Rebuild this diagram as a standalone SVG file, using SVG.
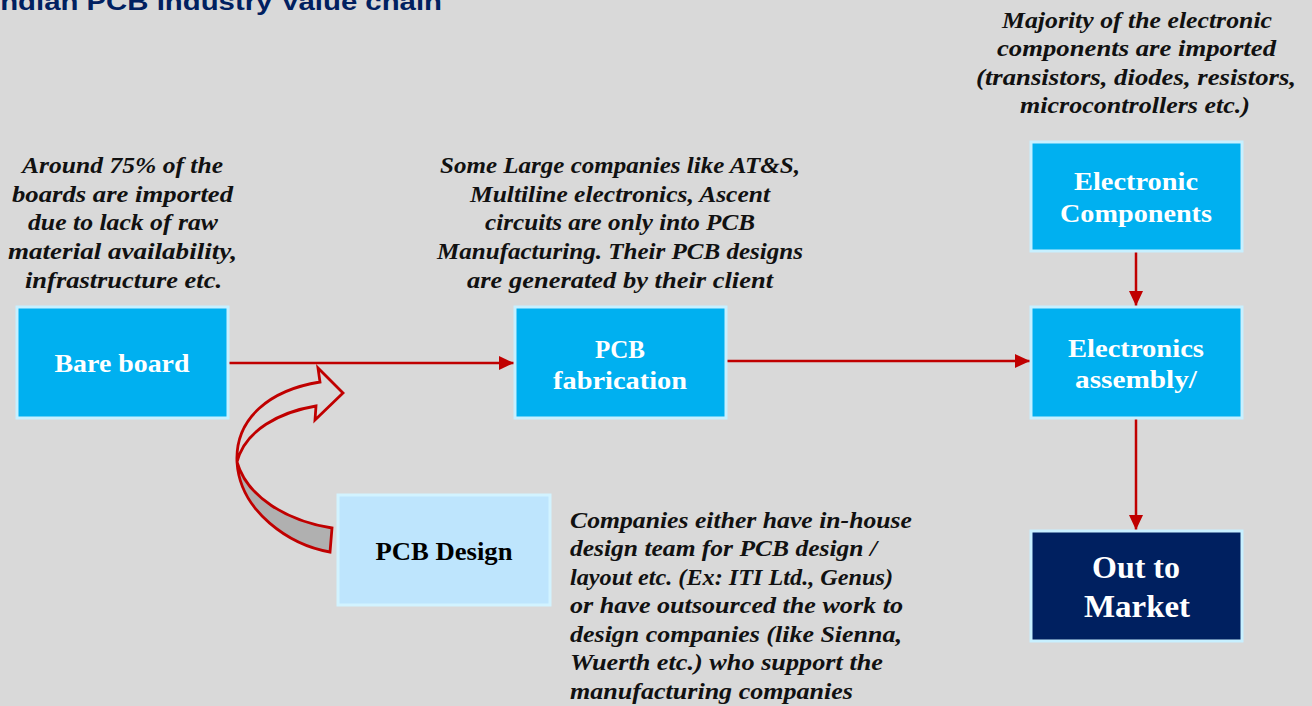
<svg xmlns="http://www.w3.org/2000/svg" width="1312" height="706" viewBox="0 0 1312 706">
<style>
.box{fill:#00b0f0;stroke:#c8f0ff;stroke-width:3}
.design{fill:#bee5fd;stroke:#d2f3ff;stroke-width:3}
.market{fill:#002060;stroke:#c8f0ff;stroke-width:3}
.bt{font-family:"Liberation Serif",serif;font-weight:bold;font-size:25px;fill:#fff;text-anchor:middle}
.note{font-family:"Liberation Serif",serif;font-weight:bold;font-style:italic;font-size:23px;fill:#111}
.c{text-anchor:middle}
.conn{stroke:#c00000;stroke-width:2.5;fill:none}
</style>
<defs>
<marker id="ah" markerUnits="userSpaceOnUse" markerWidth="16" markerHeight="16" viewBox="0 0 16 16" refX="15" refY="8" orient="auto">
<path d="M0,1 L15,8 L0,15 Z" fill="#c00000"/>
</marker>
</defs>
<rect width="1312" height="706" fill="#d9d9d9"/>
<text x="-8" y="10" font-family="Liberation Sans,Arial,sans-serif" font-weight="bold" font-size="24" fill="#002060" textLength="450" lengthAdjust="spacingAndGlyphs">Indian PCB Industry Value chain</text>

<g id="connectors">
<line class="conn" x1="229" y1="363" x2="514" y2="363" marker-end="url(#ah)"/>
<line class="conn" x1="727" y1="361" x2="1030" y2="361" marker-end="url(#ah)"/>
<line class="conn" x1="1136" y1="252" x2="1136" y2="306" marker-end="url(#ah)"/>
<line class="conn" x1="1136" y1="419" x2="1136" y2="530" marker-end="url(#ah)"/>
<g id="curved-arrow">
<path d="M330,552 C290,545 240,512 237,462 C247,497 287,521 332,528 Z" fill="#b0b0b0"/>
<path d="M330,552 C290,545 240,512 237,462 C235,418 270,390 320,382 L318,368 L343,393 L315,420 L316,406 C280,412 245,430 237,462 C247,497 287,521 332,528 Z" fill="none" stroke="#c00000" stroke-width="2.8" stroke-linejoin="miter"/>
</g>
</g>

<g id="bare-board">
<rect class="box" x="17" y="307" width="211" height="111"/>
<text class="bt" x="122" y="372" textLength="135" lengthAdjust="spacingAndGlyphs">Bare board</text>
</g>
<g id="pcb-fabrication">
<rect class="box" x="515" y="307" width="211" height="111"/>
<text class="bt" x="620" y="358">PCB</text>
<text class="bt" x="620" y="389" textLength="134" lengthAdjust="spacingAndGlyphs">fabrication</text>
</g>
<g id="electronic-components">
<rect class="box" x="1031" y="142" width="211" height="109"/>
<text class="bt" x="1136" y="190" textLength="124" lengthAdjust="spacingAndGlyphs">Electronic</text>
<text class="bt" x="1136" y="222" textLength="152" lengthAdjust="spacingAndGlyphs">Components</text>
</g>
<g id="electronics-assembly">
<rect class="box" x="1031" y="307" width="211" height="111"/>
<text class="bt" x="1136" y="357" textLength="136" lengthAdjust="spacingAndGlyphs">Electronics</text>
<text class="bt" x="1136" y="388" textLength="122" lengthAdjust="spacingAndGlyphs">assembly/</text>
</g>
<g id="out-to-market">
<rect class="market" x="1031" y="531" width="211" height="110"/>
<text class="bt" x="1136" y="578" style="font-size:31px" textLength="88" lengthAdjust="spacingAndGlyphs">Out to</text>
<text class="bt" x="1137" y="617" style="font-size:31px" textLength="106" lengthAdjust="spacingAndGlyphs">Market</text>
</g>
<g id="pcb-design">
<rect class="design" x="338" y="495" width="212" height="110"/>
<text class="bt" x="444" y="560" style="fill:#000" textLength="137" lengthAdjust="spacingAndGlyphs">PCB Design</text>
</g>

<g id="note-bare-board">
<text class="note c" x="122.5" y="173" textLength="201" lengthAdjust="spacingAndGlyphs">Around 75% of the</text>
<text class="note c" x="122.5" y="202" textLength="221" lengthAdjust="spacingAndGlyphs">boards are imported</text>
<text class="note c" x="123" y="230" textLength="190" lengthAdjust="spacingAndGlyphs">due to lack of raw</text>
<text class="note c" x="122.5" y="259" textLength="229" lengthAdjust="spacingAndGlyphs">material availability,</text>
<text class="note c" x="123.5" y="288" textLength="197" lengthAdjust="spacingAndGlyphs">infrastructure etc.</text>
</g>
<g id="note-fabrication">
<text class="note c" x="620" y="173" textLength="360" lengthAdjust="spacingAndGlyphs">Some Large companies like AT&amp;S,</text>
<text class="note c" x="620" y="202" textLength="300" lengthAdjust="spacingAndGlyphs">Multiline electronics, Ascent</text>
<text class="note c" x="620" y="230" textLength="270" lengthAdjust="spacingAndGlyphs">circuits are only into PCB</text>
<text class="note c" x="620" y="259" textLength="366" lengthAdjust="spacingAndGlyphs">Manufacturing. Their PCB designs</text>
<text class="note c" x="620" y="288" textLength="306" lengthAdjust="spacingAndGlyphs">are generated by their client</text>
</g>
<g id="note-components">
<text class="note c" x="1137" y="28" textLength="270" lengthAdjust="spacingAndGlyphs">Majority of the electronic</text>
<text class="note c" x="1136.5" y="56" textLength="279" lengthAdjust="spacingAndGlyphs">components are imported</text>
<text class="note c" x="1136" y="85" textLength="320" lengthAdjust="spacingAndGlyphs">(transistors, diodes, resistors,</text>
<text class="note c" x="1135" y="113" textLength="230" lengthAdjust="spacingAndGlyphs">microcontrollers etc.)</text>
</g>
<g id="note-design">
<text class="note" x="570" y="528" textLength="342" lengthAdjust="spacingAndGlyphs">Companies either have in-house</text>
<text class="note" x="570" y="556" textLength="307" lengthAdjust="spacingAndGlyphs">design team for PCB design /</text>
<text class="note" x="570" y="585" textLength="323" lengthAdjust="spacingAndGlyphs">layout etc. (Ex: ITI Ltd., Genus)</text>
<text class="note" x="570" y="613" textLength="333" lengthAdjust="spacingAndGlyphs">or have outsourced the work to</text>
<text class="note" x="570" y="642" textLength="332" lengthAdjust="spacingAndGlyphs">design companies (like Sienna,</text>
<text class="note" x="570" y="670" textLength="313" lengthAdjust="spacingAndGlyphs">Wuerth etc.) who support the</text>
<text class="note" x="570" y="699" textLength="283" lengthAdjust="spacingAndGlyphs">manufacturing companies</text>
</g>
</svg>
